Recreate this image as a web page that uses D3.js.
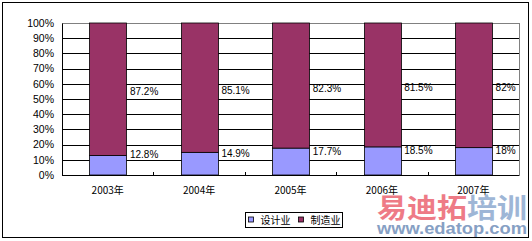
<!DOCTYPE html>
<html>
<head>
<meta charset="utf-8">
<script src="https://cdn.jsdelivr.net/npm/d3@7"></script>
<style>
  body { margin: 0; background: #fff; }
  text { font-family: "Liberation Sans", Arial, sans-serif; fill: #000; }
  .cjk { font-family: "Noto Sans CJK SC", "Liberation Sans", sans-serif; }
</style>
</head>
<body>
<script>
var years = ["2003年", "2004年", "2005年", "2006年", "2007年"];
var design = [12.8, 14.9, 17.7, 18.5, 18];
var manufacturing = [87.2, 85.1, 82.3, 81.5, 82];
var seriesNames = ["设计业", "制造业"];
var seriesColors = ["#9999ff", "#993366"];
var yTicks = [0, 10, 20, 30, 40, 50, 60, 70, 80, 90, 100];

var W = 532, H = 241;
var margin = {top: 23, right: 13, bottom: 66, left: 62};
var width = W - margin.left - margin.right,
    height = H - margin.top - margin.bottom;

var svg = d3.select("body").append("svg")
    .attr("width", W)
    .attr("height", H);

// outer chart border
svg.append("rect")
    .attr("x", 2.5).attr("y", 2.5)
    .attr("width", 526).attr("height", 235)
    .attr("fill", "#fff")
    .attr("stroke", "#000");

var g = svg.append("g")
    .attr("transform", "translate(" + margin.left + "," + margin.top + ")");

var x = d3.scaleBand()
    .domain(years)
    .range([0, width])
    .paddingInner(0.6)
    .paddingOuter(0.3);

var y = d3.scaleLinear()
    .domain([0, 100])
    .range([height, 0]);

// plot area frame (grey top/right)
g.append("rect")
    .attr("x", 0.5).attr("y", 0.5)
    .attr("width", width).attr("height", height)
    .attr("fill", "none")
    .attr("stroke", "#808080");

// gridlines
g.selectAll("line.grid")
    .data(yTicks.filter(function(t) { return t > 0 && t < 100; }))
    .enter().append("line")
    .attr("class", "grid")
    .attr("x1", 0).attr("x2", width)
    .attr("y1", function(d) { return Math.round(y(d)) + 0.5; })
    .attr("y2", function(d) { return Math.round(y(d)) + 0.5; })
    .attr("stroke", "#000");

var data = years.map(function(yr, i) {
    return {year: yr, design: design[i], manu: manufacturing[i]};
});

// design segment
g.selectAll("rect.design")
    .data(data)
    .enter().append("rect")
    .attr("class", "design")
    .attr("x", function(d) { return Math.round(x(d.year)) + 0.5; })
    .attr("y", function(d) { return y(d.design); })
    .attr("width", Math.round(x.bandwidth()))
    .attr("height", function(d) { return height - y(d.design); })
    .attr("fill", seriesColors[0])
    .attr("stroke", "#000")
    .attr("stroke-width", 0.8);

// manufacturing segment
g.selectAll("rect.manu")
    .data(data)
    .enter().append("rect")
    .attr("class", "manu")
    .attr("x", function(d) { return Math.round(x(d.year)) + 0.5; })
    .attr("y", function(d) { return y(d.design + d.manu); })
    .attr("width", Math.round(x.bandwidth()))
    .attr("height", function(d) { return y(d.design) - y(d.design + d.manu); })
    .attr("fill", seriesColors[1])
    .attr("stroke", "#000")
    .attr("stroke-width", 0.8);

// data labels, to the right of each bar
g.selectAll("text.lblDesign")
    .data(data)
    .enter().append("text")
    .attr("class", "lblDesign")
    .attr("x", function(d) { return x(d.year) + x.bandwidth() + 4; })
    .attr("y", function(d) { return y(d.design / 2) - 7; })
    .attr("font-size", "10px")
    .text(function(d) { return d.design + "%"; });

g.selectAll("text.lblManu")
    .data(data)
    .enter().append("text")
    .attr("class", "lblManu")
    .attr("x", function(d) { return x(d.year) + x.bandwidth() + 4; })
    .attr("y", function(d) { return y(d.design + d.manu / 2) + 6; })
    .attr("font-size", "10px")
    .text(function(d) { return d.manu + "%"; });

// y axis
var yAxis = d3.axisLeft(y)
    .tickValues(yTicks)
    .tickSize(0)
    .tickPadding(8)
    .tickFormat(function(d) { return d + "%"; });

g.append("g")
    .attr("class", "axis y-axis")
    .call(yAxis)
    .call(function(s) {
        s.select(".domain").attr("stroke", "#000");
        s.selectAll("text").attr("font-size", "10.5px")
            .attr("font-family", "'Liberation Sans', Arial, sans-serif");
    });

// x axis
g.append("line")
    .attr("x1", 0).attr("x2", width)
    .attr("y1", height + 0.5).attr("y2", height + 0.5)
    .attr("stroke", "#000");

// small inward ticks between categories
g.selectAll("line.xtick")
    .data(years.slice(1))
    .enter().append("line")
    .attr("class", "xtick")
    .attr("x1", function(d) { return Math.round(x(d) - x.step() * x.paddingInner() / 2) + 0.5; })
    .attr("x2", function(d) { return Math.round(x(d) - x.step() * x.paddingInner() / 2) + 0.5; })
    .attr("y1", height).attr("y2", height - 3)
    .attr("stroke", "#000");

g.selectAll("text.xlabel")
    .data(years)
    .enter().append("text")
    .attr("class", "xlabel cjk")
    .attr("x", function(d) { return x(d) + x.bandwidth() / 2; })
    .attr("y", height + 19)
    .attr("text-anchor", "middle")
    .attr("font-size", "10px")
    .text(function(d) { return d; });

// legend
var legend = svg.append("g")
    .attr("transform", "translate(245.5,212.5)");

legend.append("rect")
    .attr("width", 97).attr("height", 15)
    .attr("fill", "#fff")
    .attr("stroke", "#000");

var legX = [3, 53];
seriesNames.forEach(function(name, i) {
    legend.append("rect")
        .attr("x", legX[i]).attr("y", 4.5)
        .attr("width", 5).attr("height", 5)
        .attr("fill", seriesColors[i])
        .attr("stroke", "#000")
        .attr("stroke-width", 0.8);
    legend.append("text")
        .attr("class", "cjk")
        .attr("x", legX[i] + 12).attr("y", 11)
        .attr("font-size", "10px")
        .text(name);
});

// watermark
var wm = svg.append("g").attr("opacity", 0.85);
var wmText = wm.append("text")
    .attr("class", "cjk")
    .attr("x", 377).attr("y", 218)
    .attr("font-size", "27px")
    .attr("font-weight", "bold")
    .attr("textLength", 150)
    .attr("lengthAdjust", "spacingAndGlyphs");
wmText.append("tspan").style("fill", "#ec6472").text("易迪拓");
wmText.append("tspan").style("fill", "#8eaad0").text("培训");

wm.append("text")
    .attr("x", 377).attr("y", 234)
    .attr("font-size", "17px")
    .attr("font-weight", "bold")
    .attr("textLength", 150)
    .attr("lengthAdjust", "spacingAndGlyphs")
    .style("fill", "#7290ba")
    .text("www.edatop.com");
</script>
</body>
</html>
